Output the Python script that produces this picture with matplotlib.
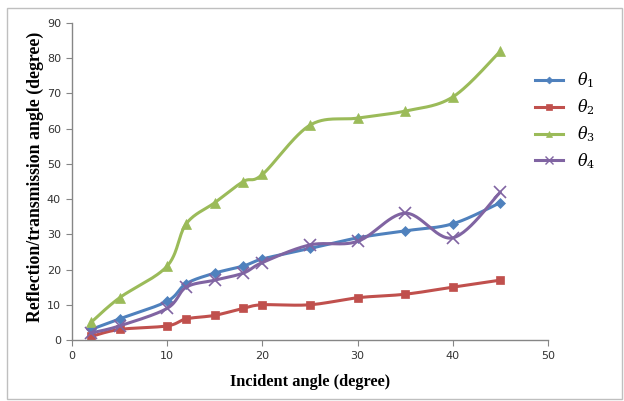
#!/usr/bin/env python3
"""Reflection/transmission angle vs incident angle, Excel-style smoothed lines."""

import numpy as np
import matplotlib
matplotlib.use('Agg')
import matplotlib.pyplot as plt
from matplotlib.patches import Rectangle

plt.rcParams['mathtext.fontset'] = 'dejavuserif'

# Incident angles (degree)
incident = [2, 5, 10, 12, 15, 18, 20, 25, 30, 35, 40, 45]

theta1 = [3, 6, 11, 16, 19, 21, 23, 26, 29, 31, 33, 39]
theta2 = [1, 3, 4, 6, 7, 9, 10, 10, 12, 13, 15, 17]
theta3 = [5, 12, 21, 33, 39, 45, 47, 61, 63, 65, 69, 82]
theta4 = [2, 4, 9, 15, 17, 19, 22, 27, 28, 36, 29, 42]

labels = [r'$\theta_1$', r'$\theta_2$', r'$\theta_3$', r'$\theta_4$']

COLORS = ['#4F81BD', '#C0504D', '#9BBB59', '#8064A2']
MARKERS = ['D', 's', '^', 'x']
MSIZES = [5, 6, 7, 8]


def smooth(x, y, n=30):
    """Catmull-Rom style cubic Bezier through every point (like Excel's smoothed line)."""
    x = np.asarray(x, float)
    y = np.asarray(y, float)
    px = np.concatenate([[x[0]], x, [x[-1]]])
    py = np.concatenate([[y[0]], y, [y[-1]]])
    t = np.linspace(0, 1, n)[:, None]
    xs, ys = [], []
    for i in range(1, len(px) - 2):
        p0 = np.array([px[i], py[i]])
        p3 = np.array([px[i + 1], py[i + 1]])
        c1 = p0 + (np.array([px[i + 1], py[i + 1]]) - np.array([px[i - 1], py[i - 1]])) / 6
        c2 = p3 - (np.array([px[i + 2], py[i + 2]]) - np.array([px[i], py[i]])) / 6
        b = ((1 - t) ** 3 * p0 + 3 * (1 - t) ** 2 * t * c1
             + 3 * (1 - t) * t ** 2 * c2 + t ** 3 * p3)
        xs.append(b[:, 0])
        ys.append(b[:, 1])
    return np.concatenate(xs), np.concatenate(ys)


fig = plt.figure(figsize=(6.24, 4.01), dpi=100)
fig.patches.append(Rectangle((7 / 624, 2 / 401), 615 / 624, 391 / 401,
                             transform=fig.transFigure, fill=False,
                             edgecolor='#BFBFBF', linewidth=1))

ax = fig.add_axes([72 / 624, 1 - 340 / 401, 476 / 624, 317 / 401])

for series, label, color, marker, ms in zip(
        [theta1, theta2, theta3, theta4], labels, COLORS, MARKERS, MSIZES):
    sx, sy = smooth(incident, series)
    ax.plot(sx, sy, '-', color=color, linewidth=2.2, solid_capstyle='round')
    ax.plot(incident, series, linestyle='none', marker=marker, color=color,
            markersize=ms, markeredgewidth=1.2 if marker == 'x' else 0.5)
    # legend proxy
    ax.plot([], [], '-', color=color, marker=marker, markersize=ms,
            markeredgewidth=1.0 if marker == 'x' else 0.5,
            linewidth=2.2, label=label)

ax.set_xlim(0, 50)
ax.set_ylim(0, 90)
ax.set_xticks(range(0, 51, 10))
ax.set_yticks(range(0, 91, 10))

for side in ['top', 'right']:
    ax.spines[side].set_visible(False)
for side in ['left', 'bottom']:
    ax.spines[side].set_color('#868686')
    ax.spines[side].set_linewidth(1)
ax.tick_params(direction='out', length=4, color='#868686', labelsize=8,
               labelcolor='#333333', pad=4)

ax.set_xlabel('Incident angle (degree)', fontfamily='Liberation Serif',
              fontweight='bold', fontsize=11.8, labelpad=9)
ax.set_ylabel('Reflection/transmission angle (degree)', fontfamily='Liberation Serif',
              fontweight='bold', fontsize=12.8)
ax.yaxis.set_label_coords(-28 / 476, 0.514)

handles, labs = ax.get_legend_handles_labels()
leg = fig.legend(handles, labs, loc='upper left',
                 bbox_to_anchor=(521 / 624, 1 - 56 / 401), frameon=False,
                 fontsize=11.5, handlelength=1.7, labelspacing=0.45,
                 handletextpad=0.9, markerscale=0.7)

fig.savefig('out.png', dpi=100)
